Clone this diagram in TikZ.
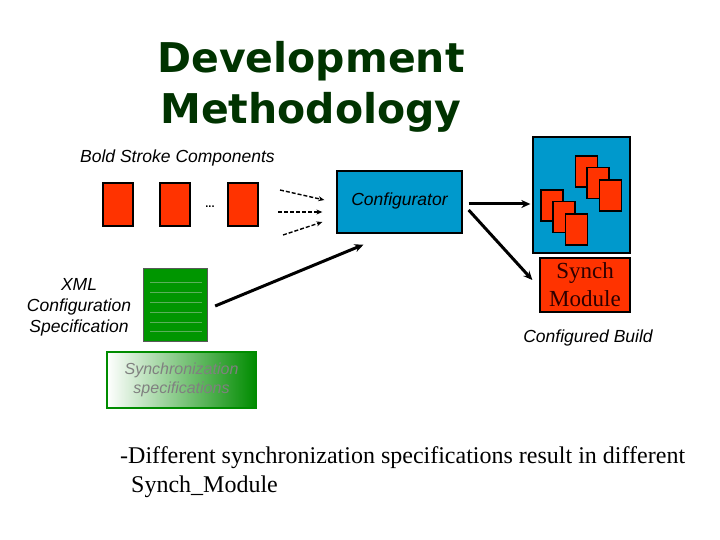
\documentclass[tikz,border=0pt]{standalone}
\usepackage{fontspec}
\setmainfont{Liberation Serif}
\setsansfont{Liberation Sans}
\newfontfamily\titlefont{DejaVu Sans}
\usepackage{xcolor}
\usetikzlibrary{arrows.meta}

\definecolor{titlegreen}{RGB}{0,51,0}
\definecolor{boxred}{RGB}{255,51,0}
\definecolor{boxblue}{RGB}{0,153,204}
\definecolor{xmlgreen}{RGB}{0,150,0}
\definecolor{xmlline}{RGB}{90,175,90}
\definecolor{specgreen}{RGB}{0,140,0}
\definecolor{synchtext}{RGB}{45,0,0}

\begin{document}
\begin{tikzpicture}[x=1pt, y=-1pt,
  comp/.style={draw, line width=1.3pt, fill=boxred, minimum width=30pt, minimum height=43pt, inner sep=0pt},
  mini/.style={draw, line width=1.3pt, fill=boxred, minimum width=22pt, minimum height=31pt, inner sep=0pt},
  lbl/.style={font=\sffamily\itshape\fontsize{17.5}{21}\selectfont, align=center, inner sep=0pt},
  link/.style={-{Stealth[length=9pt, width=8pt]}, line width=3pt},
  hint/.style={-{Stealth[length=6pt, width=5pt]}, line width=1.4pt, dash pattern=on 4pt off 2pt}
]
  \fill[white] (0,0) rectangle (720,540);
  \useasboundingbox (0,0) rectangle (720,540);

  \node[font=\titlefont\bfseries\fontsize{41}{51}\selectfont, text=titlegreen, align=center, inner sep=0pt] (title) at (311,87) {Development\\Methodology};

  \node[lbl, anchor=base west] (bsc) at (80,163) {Bold Stroke Components};
  \node[comp] (c1) at (118,204.5) {};
  \node[comp] (c2) at (175,204.5) {};
  \node[comp] (c3) at (243,204.5) {};
  \node[font=\sffamily\bfseries\fontsize{11}{11}\selectfont, inner sep=0pt] (dots) at (210,207) {...};

  \node[draw, line width=1.3pt, fill=boxblue, minimum width=125pt, minimum height=62pt, inner sep=0pt, font=\sffamily\itshape\fontsize{17.5}{21}\selectfont] (conf) at (399.5,202) {\raisebox{6pt}{Configurator}};

  \coordinate (h1) at (280,190);
  \coordinate (h2) at (278,212);
  \coordinate (h3) at (283,235);
  \draw[hint] (h1) -- ([xshift=-12pt, yshift=2pt]conf.west);
  \draw[hint] (h2) -- ([xshift=-14pt, yshift=-10pt]conf.west);
  \draw[hint] (h3) -- ([xshift=-14pt, yshift=-20pt]conf.west);

  \node[draw, line width=1.3pt, fill=boxblue, minimum width=97pt, minimum height=116pt, inner sep=0pt] (build) at (581.5,195) {};
  \node[mini] (m1) at (586.5,171.5) {};
  \node[mini] (m2) at (598,183) {};
  \node[mini] (m3) at (610.5,195.5) {};
  \node[mini] (m4) at (552,205.5) {};
  \node[mini] (m5) at (564,217) {};
  \node[mini] (m6) at (576.5,229.5) {};

  \node[draw, line width=1.3pt, fill=boxred, minimum width=90pt, minimum height=54pt, inner sep=0pt, align=center, text=synchtext, font=\fontsize{23}{28}\selectfont] (synch) at (585,285) {Synch\\Module};
  \node[lbl] (cb) at (588,338) {Configured Build};

  \draw[link] ([xshift=6pt, yshift=-2pt]conf.east) -- ([xshift=-2pt, yshift=-9pt]build.west);
  \draw[link] ([xshift=6pt, yshift=-8pt]conf.east) -- ([xshift=-7pt, yshift=5pt]synch.west);

  \node[lbl] (xmltext) at (79,307) {XML\\Configuration\\Specification};
  \node[draw=black!65, line width=1.3pt, fill=xmlgreen, minimum width=64pt, minimum height=73pt, inner sep=0pt] (xml) at (175.5,305) {};
  \foreach \y in {282,292,302,312,322,331}
    \draw[xmlline, line width=1pt] (150,\y) -- (202,\y);

  \draw[link] ([xshift=7pt, yshift=-1pt]xml.east) -- ([xshift=-36pt, yshift=-11pt]conf.south);

  \node[draw=specgreen, line width=1.5pt, left color=white, middle color=white!70!specgreen, right color=specgreen, minimum width=149pt, minimum height=56pt, inner sep=0pt, align=center, text=black!50, font=\sffamily\itshape\fontsize{16}{19}\selectfont] (spec) at (181.5,380) {Synchronization\\specifications};

  \node[anchor=base west, align=left, inner sep=0pt, font=\fontsize{24}{29}\selectfont] (note) at (120,492) {-Different synchronization specifications result in different\\\hspace{11pt}Synch\_Module};
\end{tikzpicture}
\end{document}
